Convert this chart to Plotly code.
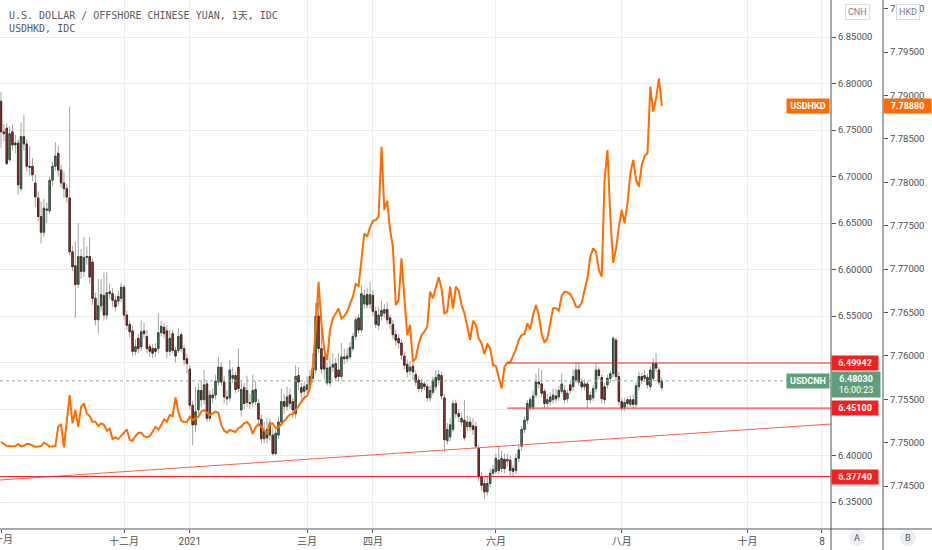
import pandas as pd
import plotly.graph_objects as go

# Daily bars, USDCNH (left scale "CNH") and USDHKD close (scale "HKD")
dates = pd.bdate_range('2020-10-01', '2021-08-20')

cnh_open = [
    6.781, 6.748, 6.752, 6.718, 6.748, 6.736, 6.736, 6.687, 6.743, 6.735,
    6.711, 6.711, 6.693, 6.677, 6.657, 6.640, 6.665, 6.663, 6.696, 6.711,
    6.725, 6.707, 6.693, 6.687, 6.677, 6.619, 6.604, 6.584, 6.614, 6.598,
    6.613, 6.614, 6.608, 6.569, 6.546, 6.561, 6.572, 6.551, 6.576, 6.574,
    6.567, 6.566, 6.569, 6.581, 6.551, 6.541, 6.534, 6.512, 6.526, 6.517,
    6.534, 6.528, 6.517, 6.515, 6.515, 6.515, 6.532, 6.538, 6.534, 6.512,
    6.531, 6.513, 6.513, 6.530, 6.515, 6.504, 6.493, 6.454, 6.433, 6.449,
    6.470, 6.460, 6.477, 6.440, 6.465, 6.465, 6.479, 6.495, 6.479, 6.463,
    6.462, 6.483, 6.486, 6.495, 6.449, 6.473, 6.457, 6.457, 6.457, 6.458,
    6.456, 6.439, 6.418, 6.428, 6.422, 6.422, 6.402, 6.422, 6.436, 6.458,
    6.453, 6.465, 6.458, 6.445, 6.486, 6.473, 6.469, 6.471, 6.476, 6.483,
    6.492, 6.550, 6.515, 6.506, 6.478, 6.478, 6.495, 6.499, 6.492, 6.485,
    6.506, 6.504, 6.506, 6.515, 6.528, 6.548, 6.535, 6.563, 6.573, 6.563,
    6.572, 6.555, 6.540, 6.550, 6.553, 6.557, 6.548, 6.541, 6.530, 6.526,
    6.521, 6.507, 6.498, 6.491, 6.496, 6.487, 6.481, 6.472, 6.477, 6.474,
    6.462, 6.468, 6.474, 6.481, 6.486, 6.462, 6.416, 6.420, 6.428, 6.456,
    6.445, 6.436, 6.438, 6.431, 6.436, 6.432, 6.431, 6.408, 6.377, 6.370,
    6.361, 6.370, 6.381, 6.383, 6.395, 6.386, 6.396, 6.394, 6.395, 6.386,
    6.384, 6.397, 6.410, 6.428, 6.438, 6.452, 6.452, 6.465, 6.479, 6.477,
    6.469, 6.456, 6.458, 6.460, 6.464, 6.463, 6.469, 6.470, 6.461, 6.476,
    6.474, 6.481, 6.492, 6.479, 6.474, 6.477, 6.460, 6.462, 6.472, 6.492,
    6.484, 6.474, 6.476, 6.483, 6.488, 6.524, 6.485, 6.458, 6.452, 6.460,
    6.455, 6.460, 6.455, 6.474, 6.485, 6.483, 6.484, 6.474, 6.483, 6.499,
    6.492, 6.473,
]
cnh_high = [
    6.791, 6.756, 6.757, 6.754, 6.756, 6.745, 6.740, 6.758, 6.766, 6.740,
    6.733, 6.720, 6.702, 6.684, 6.673, 6.676, 6.672, 6.700, 6.716, 6.737,
    6.733, 6.712, 6.705, 6.692, 6.775, 6.625, 6.630, 6.650, 6.622, 6.635,
    6.625, 6.635, 6.612, 6.575, 6.590, 6.590, 6.597, 6.597, 6.585, 6.580,
    6.572, 6.577, 6.586, 6.584, 6.556, 6.545, 6.540, 6.525, 6.531, 6.545,
    6.543, 6.535, 6.520, 6.520, 6.521, 6.553, 6.545, 6.543, 6.540, 6.535,
    6.535, 6.517, 6.537, 6.533, 6.519, 6.509, 6.497, 6.459, 6.474, 6.478,
    6.481, 6.492, 6.481, 6.470, 6.472, 6.487, 6.506, 6.500, 6.485, 6.470,
    6.503, 6.495, 6.490, 6.515, 6.480, 6.478, 6.486, 6.466, 6.487, 6.480,
    6.461, 6.444, 6.436, 6.440, 6.440, 6.430, 6.430, 6.442, 6.472, 6.466,
    6.474, 6.472, 6.462, 6.497, 6.495, 6.478, 6.480, 6.485, 6.492, 6.510,
    6.564, 6.565, 6.540, 6.512, 6.500, 6.505, 6.510, 6.505, 6.510, 6.521,
    6.515, 6.515, 6.522, 6.532, 6.549, 6.552, 6.583, 6.578, 6.580, 6.587,
    6.578, 6.560, 6.560, 6.566, 6.563, 6.565, 6.552, 6.546, 6.535, 6.530,
    6.525, 6.512, 6.503, 6.502, 6.500, 6.492, 6.486, 6.483, 6.480, 6.478,
    6.475, 6.485, 6.492, 6.492, 6.490, 6.466, 6.435, 6.440, 6.460, 6.460,
    6.450, 6.446, 6.460, 6.443, 6.442, 6.440, 6.436, 6.412, 6.382, 6.375,
    6.378, 6.386, 6.390, 6.402, 6.410, 6.405, 6.402, 6.402, 6.400, 6.390,
    6.402, 6.412, 6.432, 6.442, 6.460, 6.463, 6.470, 6.488, 6.494, 6.492,
    6.472, 6.466, 6.468, 6.472, 6.472, 6.475, 6.488, 6.476, 6.471, 6.480,
    6.492, 6.500, 6.500, 6.483, 6.482, 6.480, 6.469, 6.476, 6.499, 6.495,
    6.487, 6.478, 6.487, 6.491, 6.528, 6.527, 6.490, 6.462, 6.462, 6.463,
    6.465, 6.466, 6.478, 6.490, 6.489, 6.492, 6.488, 6.496, 6.505, 6.510,
    6.495, 6.484,
]
cnh_low = [
    6.731, 6.738, 6.712, 6.716, 6.728, 6.725, 6.680, 6.684, 6.728, 6.705,
    6.702, 6.695, 6.667, 6.652, 6.628, 6.635, 6.650, 6.660, 6.690, 6.706,
    6.700, 6.688, 6.677, 6.672, 6.615, 6.598, 6.548, 6.580, 6.590, 6.592,
    6.605, 6.585, 6.562, 6.540, 6.531, 6.555, 6.545, 6.546, 6.568, 6.560,
    6.555, 6.561, 6.565, 6.546, 6.535, 6.527, 6.507, 6.508, 6.510, 6.512,
    6.526, 6.510, 6.506, 6.505, 6.506, 6.510, 6.528, 6.526, 6.505, 6.507,
    6.510, 6.500, 6.510, 6.511, 6.497, 6.488, 6.450, 6.411, 6.425, 6.444,
    6.452, 6.455, 6.436, 6.436, 6.456, 6.460, 6.475, 6.475, 6.456, 6.454,
    6.458, 6.478, 6.467, 6.468, 6.442, 6.450, 6.452, 6.450, 6.452, 6.454,
    6.431, 6.413, 6.413, 6.413, 6.416, 6.400, 6.400, 6.418, 6.432, 6.445,
    6.448, 6.450, 6.440, 6.440, 6.470, 6.460, 6.462, 6.466, 6.472, 6.478,
    6.488, 6.510, 6.488, 6.482, 6.475, 6.474, 6.490, 6.480, 6.480, 6.481,
    6.498, 6.500, 6.503, 6.512, 6.524, 6.531, 6.532, 6.558, 6.558, 6.558,
    6.550, 6.537, 6.535, 6.545, 6.548, 6.541, 6.536, 6.525, 6.518, 6.515,
    6.503, 6.492, 6.484, 6.486, 6.481, 6.475, 6.468, 6.468, 6.470, 6.458,
    6.458, 6.465, 6.470, 6.476, 6.460, 6.404, 6.412, 6.415, 6.425, 6.440,
    6.436, 6.432, 6.416, 6.426, 6.426, 6.422, 6.408, 6.372, 6.362, 6.353,
    6.357, 6.366, 6.378, 6.380, 6.380, 6.382, 6.381, 6.388, 6.378, 6.377,
    6.380, 6.393, 6.405, 6.424, 6.434, 6.448, 6.449, 6.462, 6.472, 6.463,
    6.451, 6.452, 6.454, 6.456, 6.457, 6.459, 6.466, 6.456, 6.457, 6.466,
    6.470, 6.478, 6.475, 6.470, 6.470, 6.451, 6.456, 6.458, 6.468, 6.482,
    6.456, 6.455, 6.472, 6.478, 6.484, 6.480, 6.454, 6.448, 6.448, 6.452,
    6.452, 6.451, 6.452, 6.470, 6.477, 6.479, 6.472, 6.470, 6.480, 6.490,
    6.476, 6.470,
]
cnh_close = [
    6.748, 6.746, 6.714, 6.746, 6.734, 6.734, 6.691, 6.743, 6.735, 6.711,
    6.710, 6.702, 6.678, 6.657, 6.640, 6.666, 6.664, 6.696, 6.711, 6.722,
    6.707, 6.693, 6.687, 6.678, 6.619, 6.603, 6.584, 6.614, 6.598, 6.613,
    6.614, 6.592, 6.569, 6.546, 6.561, 6.573, 6.551, 6.575, 6.574, 6.567,
    6.560, 6.571, 6.581, 6.551, 6.540, 6.533, 6.512, 6.517, 6.515, 6.533,
    6.531, 6.515, 6.512, 6.510, 6.512, 6.532, 6.539, 6.531, 6.512, 6.526,
    6.513, 6.507, 6.528, 6.515, 6.503, 6.499, 6.454, 6.433, 6.447, 6.470,
    6.460, 6.476, 6.440, 6.465, 6.462, 6.480, 6.495, 6.479, 6.463, 6.461,
    6.492, 6.486, 6.471, 6.472, 6.471, 6.456, 6.470, 6.456, 6.470, 6.471,
    6.439, 6.418, 6.426, 6.419, 6.435, 6.402, 6.424, 6.436, 6.458, 6.453,
    6.463, 6.456, 6.449, 6.485, 6.479, 6.468, 6.474, 6.476, 6.485, 6.494,
    6.550, 6.515, 6.493, 6.493, 6.494, 6.495, 6.498, 6.484, 6.485, 6.506,
    6.504, 6.507, 6.516, 6.528, 6.546, 6.535, 6.574, 6.572, 6.562, 6.573,
    6.555, 6.541, 6.551, 6.556, 6.557, 6.546, 6.542, 6.530, 6.524, 6.521,
    6.508, 6.497, 6.490, 6.495, 6.490, 6.479, 6.472, 6.478, 6.474, 6.462,
    6.470, 6.481, 6.484, 6.487, 6.464, 6.417, 6.428, 6.433, 6.456, 6.445,
    6.442, 6.440, 6.419, 6.436, 6.431, 6.428, 6.410, 6.377, 6.368, 6.361,
    6.370, 6.381, 6.385, 6.397, 6.384, 6.397, 6.386, 6.396, 6.384, 6.383,
    6.397, 6.406, 6.428, 6.438, 6.456, 6.460, 6.464, 6.479, 6.477, 6.467,
    6.456, 6.460, 6.463, 6.465, 6.461, 6.470, 6.477, 6.460, 6.467, 6.470,
    6.485, 6.492, 6.479, 6.474, 6.477, 6.460, 6.465, 6.472, 6.492, 6.486,
    6.461, 6.460, 6.483, 6.488, 6.526, 6.485, 6.458, 6.451, 6.457, 6.456,
    6.460, 6.455, 6.475, 6.485, 6.481, 6.486, 6.476, 6.492, 6.499, 6.494,
    6.479, 6.4803,
]
hkd_close = [
    7.75010, 7.74980, 7.74960, 7.74957, 7.74957, 7.74960, 7.74983, 7.74957, 7.74960, 7.74987,
    7.74983, 7.74972, 7.74953, 7.74953, 7.74960, 7.74999, 7.74983, 7.74953, 7.74953, 7.74960,
    7.75183, 7.75214, 7.74945, 7.75222, 7.75548, 7.75222, 7.75375, 7.75183, 7.75414, 7.75452,
    7.75337, 7.75306, 7.75241, 7.75241, 7.75191, 7.75222, 7.75206, 7.75137, 7.75160, 7.75041,
    7.75060, 7.75041, 7.75079, 7.75126, 7.75152, 7.75030, 7.75022, 7.75076, 7.75114, 7.75114,
    7.75076, 7.75060, 7.75076, 7.75126, 7.75183, 7.75152, 7.75202, 7.75268, 7.75241, 7.75318,
    7.75306, 7.75521, 7.75356, 7.75252, 7.75237, 7.75241, 7.75298, 7.75260, 7.75279, 7.75299,
    7.75357, 7.75376, 7.75345, 7.75318, 7.75338, 7.75357, 7.75345, 7.75203, 7.75138, 7.75115,
    7.75146, 7.75130, 7.75123, 7.75169, 7.75184, 7.75223, 7.75238, 7.75199, 7.75100, 7.75176,
    7.75215, 7.75184, 7.75138, 7.75107, 7.75215, 7.75223, 7.75169, 7.75176, 7.75215, 7.75253,
    7.75280, 7.75326, 7.75330, 7.75384, 7.75422, 7.75472, 7.75518, 7.75537, 7.75626, 7.75880,
    7.76297, 7.76854, 7.76374, 7.76066, 7.75951, 7.76297, 7.76431, 7.76489, 7.76546, 7.76431,
    7.76458, 7.76508, 7.76604, 7.76681, 7.76827, 7.76804, 7.77103, 7.77411, 7.77372, 7.77480,
    7.77556, 7.77564, 7.77603, 7.78409, 7.77679, 7.77787, 7.77449, 7.77257, 7.76585, 7.76642,
    7.77123, 7.76662, 7.76239, 7.76354, 7.75932, 7.75970, 7.76143, 7.76239, 7.76278, 7.76335,
    7.76738, 7.76662, 7.76796, 7.76904, 7.76777, 7.76489, 7.76508, 7.76796, 7.76546, 7.76796,
    7.76750, 7.76585, 7.76489, 7.76335, 7.76182, 7.76404, 7.76354, 7.76201, 7.76143, 7.76020,
    7.76143, 7.76086, 7.75894, 7.75882, 7.75740, 7.75625, 7.75874, 7.75924, 7.75924, 7.75990,
    7.76074, 7.76182, 7.76240, 7.76251, 7.76374, 7.76305, 7.76470, 7.76585, 7.76470, 7.76251,
    7.76151, 7.76201, 7.76393, 7.76547, 7.76547, 7.76520, 7.76689, 7.76739, 7.76731, 7.76712,
    7.76651, 7.76566, 7.76559, 7.76612, 7.76758, 7.76893, 7.77142, 7.77238, 7.77200, 7.76989,
    7.76912, 7.78026, 7.78371, 7.77603, 7.77073, 7.77238, 7.77488, 7.77680, 7.77526, 7.77757,
    7.78102, 7.78256, 7.78026, 7.77949, 7.78198, 7.78302, 7.78333, 7.79101, 7.78813, 7.78966,
    7.79197, 7.78880,
]

# Drawn levels (horizontal rays) and the rising trend line
level_values = [6.49942, 6.45100, 6.37740]
level_starts = ['2021-06-07', '2021-06-07', None]
trend_y = [6.3737, 6.4339]
cnh_last = 6.48030
hkd_last = 7.78880

tick_dates = ['2020-10-01', '2020-12-01', '2021-01-01', '2021-03-01', '2021-04-01',
              '2021-06-01', '2021-08-02', '2021-10-01', '2021-11-08']
tick_text = ['十月', '十二月', '2021', '三月', '四月', '六月', '八月', '十月', '8']

x_range = ['2020-09-30 15:36', '2021-11-11 03:36']

RED = '#f71e1e'
GREEN = '#5f9e7a'
ORANGE = '#ff6d00'
TXT = '#4f4f4f'
FONT = 'Roboto, Noto Sans CJK SC, sans-serif'


# pixel -> paper helpers (paper spans 883 x 529 px)
def px(x):
    return x / 883


def py(y):
    return (529 - y) / 529


# body-only extents so the bodies get a dark outline while wicks stay grey
body_top = [max(o, c) for o, c in zip(cnh_open, cnh_close)]
body_bot = [min(o, c) for o, c in zip(cnh_open, cnh_close)]

fig = go.Figure()
fig.add_trace(go.Candlestick(
    x=dates, open=cnh_open, high=cnh_high, low=cnh_low, close=cnh_close,
    increasing=dict(fillcolor='#4a9468', line=dict(color='#a3a3a3', width=1)),
    decreasing=dict(fillcolor='#b5382b', line=dict(color='#a3a3a3', width=1)),
    whiskerwidth=0, hoverinfo='skip', showlegend=False, yaxis='y',
))
fig.add_trace(go.Candlestick(
    x=dates, open=cnh_open, high=body_top, low=body_bot, close=cnh_close,
    increasing=dict(fillcolor='#4a9468', line=dict(color='#2f4a3a', width=1)),
    decreasing=dict(fillcolor='#b5382b', line=dict(color='#4a2520', width=1)),
    whiskerwidth=0, hoverinfo='skip', showlegend=False, yaxis='y',
))
fig.add_trace(go.Scatter(
    x=dates, y=hkd_close, mode='lines', line=dict(color=ORANGE, width=2),
    hoverinfo='skip', showlegend=False, yaxis='y2',
))

shapes = []
# current price dotted line
shapes.append(dict(type='line', xref='x domain', yref='y', x0=0, x1=1, y0=cnh_last, y1=cnh_last,
                   line=dict(color='#8fb09a', width=1, dash='dot')))
# trend line
shapes.append(dict(type='line', xref='x domain', yref='y', x0=0, x1=1, y0=trend_y[0], y1=trend_y[1],
                   line=dict(color='#f26450', width=1)))
for val, start in zip(level_values, level_starts):
    if start is None:
        shapes.append(dict(type='line', xref='x domain', yref='y', x0=0, x1=1, y0=val, y1=val,
                           line=dict(color=RED, width=1)))
    else:
        shapes.append(dict(type='line', xref='x', yref='y', x0=start, x1=x_range[1], y0=val, y1=val,
                           line=dict(color=RED, width=1)))
# scale separators and bottom axis line
for xpix in [831, 883]:
    shapes.append(dict(type='line', xref='paper', yref='paper', x0=px(xpix), x1=px(xpix),
                       y0=py(550), y1=1, line=dict(color='#50535e', width=1)))
shapes.append(dict(type='line', xref='paper', yref='paper', x0=0, x1=px(932), y0=0, y1=0,
                   line=dict(color='#50535e', width=1)))
# A / B circles
for cx in [857, 908]:
    shapes.append(dict(type='circle', xref='paper', yref='paper', x0=px(cx - 8), x1=px(cx + 8),
                       y0=py(546), y1=py(530), fillcolor='#eceef2', line=dict(width=0)))

ann = []
ann.append(dict(text='U.S. DOLLAR / OFFSHORE CHINESE YUAN, 1天, IDC', xref='paper', yref='paper',
                x=px(7), y=py(15), xanchor='left', yanchor='middle', showarrow=False,
                font=dict(family='DejaVu Sans Mono, Noto Sans CJK SC', size=10, color='#5a5a5a')))
ann.append(dict(text='USDHKD, IDC', xref='paper', yref='paper',
                x=px(7), y=py(29), xanchor='left', yanchor='middle', showarrow=False,
                font=dict(family='DejaVu Sans Mono', size=10, color='#5a5a5a')))
# first month label sits on the left edge and is cut off there
ann.append(dict(text=tick_text[0], xref='paper', yref='paper', x=px(3), y=py(539),
                xanchor='center', yanchor='middle', showarrow=False,
                font=dict(family=FONT, size=10, color=TXT)))
# scale badges
for label, cx in [('CNH', 857), ('HKD', 908)]:
    ann.append(dict(text=label, xref='paper', yref='paper', x=px(cx), y=py(12),
                    xanchor='center', yanchor='middle', showarrow=False,
                    bgcolor='white', bordercolor='#d8dbe2', borderwidth=1, borderpad=2,
                    font=dict(family=FONT, size=9, color='#7a7d86')))
for label, cx in [('A', 857), ('B', 908)]:
    ann.append(dict(text=label, xref='paper', yref='paper', x=px(cx), y=py(538),
                    xanchor='center', yanchor='middle', showarrow=False,
                    font=dict(family=FONT, size=9, color='#555')))
# level price tags
for val in level_values:
    ann.append(dict(text='<b>%.5f</b>' % val, xref='paper', yref='y', x=px(831), y=val,
                    xanchor='left', yanchor='middle', showarrow=False, width=44, height=12,
                    bgcolor=RED, borderpad=1, font=dict(family=FONT, size=9, color='white')))
# last price tags
ann.append(dict(text='<b>%.5f</b><br>16:00:23' % cnh_last, xref='paper', yref='y', x=px(831),
                y=cnh_last, xanchor='left', yanchor='top', yshift=10, showarrow=False,
                width=46, height=23, bgcolor=GREEN, borderpad=1,
                font=dict(family=FONT, size=9, color='white')))
ann.append(dict(text='<b>USDCNH</b>', xref='paper', yref='y', x=px(830), y=cnh_last,
                xanchor='right', yanchor='middle', showarrow=False, width=40, height=12,
                bgcolor=GREEN, borderpad=1, font=dict(family=FONT, size=9, color='white')))
ann.append(dict(text='<b>USDHKD</b>', xref='paper', yref='y2', x=px(830), y=hkd_last,
                xanchor='right', yanchor='middle', showarrow=False, width=40, height=12,
                bgcolor=ORANGE, borderpad=1, font=dict(family=FONT, size=9, color='white')))
ann.append(dict(text='<b>%.5f</b>' % hkd_last, xref='paper', yref='y2', x=px(883), y=hkd_last,
                xanchor='left', yanchor='middle', showarrow=False, width=45, height=12,
                bgcolor=ORANGE, borderpad=1, font=dict(family=FONT, size=9, color='white')))

fig.update_layout(
    width=932, height=550,
    margin=dict(l=0, r=49, t=0, b=21),
    paper_bgcolor='white', plot_bgcolor='white',
    font=dict(family=FONT, size=10, color=TXT),
    shapes=shapes, annotations=ann,
    xaxis=dict(
        domain=[0, 831 / 883], type='date', range=x_range, automargin=False,
        rangebreaks=[dict(bounds=['sat', 'mon'])],
        rangeslider=dict(visible=False),
        tickvals=tick_dates, ticktext=tick_text, tickangle=0,
        ticks='outside', ticklen=3, tickcolor='#50535e',
        showgrid=True, gridcolor='#ececec', gridwidth=1,
        showline=False, zeroline=False,
        tickfont=dict(family=FONT, size=10, color=TXT),
    ),
    yaxis=dict(
        side='right', anchor='x', range=[6.321, 6.8898], automargin=False,
        tick0=6.35, dtick=0.05, tickformat='.5f',
        ticks='outside', ticklen=4, tickcolor='#50535e',
        showgrid=True, gridcolor='#ececec', gridwidth=1,
        zeroline=False, showline=False,
        tickfont=dict(family=FONT, size=9.5, color=TXT),
    ),
    yaxis2=dict(
        overlaying='y', side='right', anchor='free', position=1.0, automargin=False,
        range=[7.74005, 7.80099], tick0=7.745, dtick=0.005, tickformat='.5f',
        ticks='outside', ticklen=4, tickcolor='#50535e',
        showgrid=False, zeroline=False, showline=False,
        tickfont=dict(family=FONT, size=9.5, color=TXT),
    ),
)

fig.write_html("out.html", config={'displayModeBar': False},
               post_script="document.body.style.margin='0';document.body.style.overflow='hidden';")
